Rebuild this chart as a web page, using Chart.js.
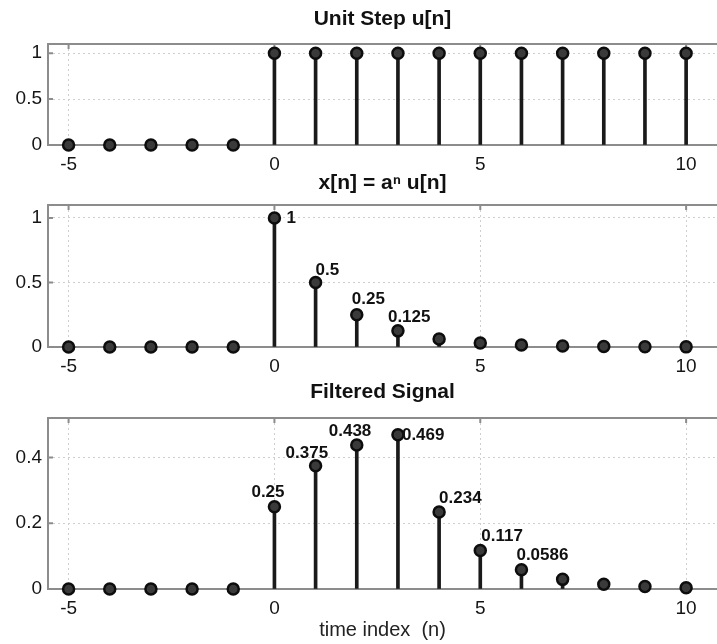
<!DOCTYPE html>
<html>
<head>
<meta charset="UTF-8">
<title>Unit Step / Filtered Signal</title>
<script src="https://cdn.jsdelivr.net/npm/chart.js@4/dist/chart.umd.min.js"></script>
<style>
  body { margin: 0; background: #fff; }
  .plot { position: absolute; left: 0; width: 717px; }
</style>
</head>
<body>
<div class="plot" style="top:0;height:170px"><canvas id="stepChart"></canvas></div>
<div class="plot" style="top:170px;height:205px"><canvas id="expChart"></canvas></div>
<div class="plot" style="top:375px;height:269px"><canvas id="filtChart"></canvas></div>

<script>
// time index
const n = [-5, -4, -3, -2, -1, 0, 1, 2, 3, 4, 5, 6, 7, 8, 9, 10];

// u[n]
const unitStep = [0, 0, 0, 0, 0, 1, 1, 1, 1, 1, 1, 1, 1, 1, 1, 1];
// x[n] = a^n u[n]
const expSignal = [0, 0, 0, 0, 0, 1, 0.5, 0.25, 0.125, 0.0625, 0.031, 0.016, 0.008, 0.004, 0.002, 0.001];
// filtered output
const filtered = [0, 0, 0, 0, 0, 0.25, 0.375, 0.438, 0.469, 0.234, 0.117, 0.0586, 0.0293, 0.0146, 0.0073, 0.0037];

// labels written next to the stems (starting at n = 0)
const expLabels = ['1', '0.5', '0.25', '0.125'];
const filtLabels = ['0.25', '0.375', '0.438', '0.469', '0.234', '0.117', '0.0586'];

const xTicks = [-5, 0, 5, 10];
const stepTicks = [0, 0.5, 1];
const expTicks = [0, 0.5, 1];
const filtTicks = [0, 0.2, 0.4];

const FONT = '"Liberation Sans", Arial, Helvetica, sans-serif';

// box, inward tick marks and value labels
const stemFrame = {
    id: 'stemFrame',
    beforeDatasetsDraw(chart) {
        const {ctx, chartArea: a, scales: {x, y}} = chart;
        ctx.save();
        ctx.strokeStyle = '#8c8c8c';
        ctx.lineWidth = 2;
        ctx.beginPath();
        x.ticks.forEach(t => {
            const px = x.getPixelForValue(t.value);
            ctx.moveTo(px, a.bottom); ctx.lineTo(px, a.bottom - 5);
            ctx.moveTo(px, a.top); ctx.lineTo(px, a.top + 5);
        });
        y.ticks.forEach(t => {
            const py = y.getPixelForValue(t.value);
            ctx.moveTo(a.left, py); ctx.lineTo(a.left + 5, py);
        });
        ctx.stroke();
        ctx.strokeRect(a.left, a.top, a.right - a.left + 4, a.bottom - a.top);
        ctx.restore();
    },
    afterDatasetsDraw(chart, args, opts) {
        if (!opts.texts) return;
        const ctx = chart.ctx;
        const pts = chart.getDatasetMeta(1).data;
        const start = n.indexOf(0);
        ctx.save();
        ctx.font = 'bold 17px ' + FONT;
        ctx.fillStyle = '#111';
        ctx.textAlign = 'left';
        ctx.textBaseline = 'middle';
        opts.texts.forEach((txt, i) => {
            const p = pts[start + i];
            const [dx, dy] = opts.offsets[i];
            ctx.fillText(txt, p.x + dx, p.y + dy);
        });
        ctx.restore();
    }
};

function stemChart(id, values, yTicks, yMax, title, cfg) {
    const pts = n.map((v, i) => ({x: v, y: values[i]}));
    return new Chart(document.getElementById(id), {
        type: 'bar',
        data: {
            datasets: [
                {
                    type: 'bar',
                    data: pts,
                    backgroundColor: '#1a1a1a',
                    barThickness: 3,
                    clip: false,
                    order: 2
                },
                {
                    type: 'line',
                    data: pts,
                    showLine: false,
                    pointRadius: 5.5,
                    pointBackgroundColor: '#3a3a3a',
                    pointBorderColor: '#0d0d0d',
                    pointBorderWidth: 2.5,
                    clip: false,
                    order: 1
                }
            ]
        },
        options: {
            responsive: true,
            maintainAspectRatio: false,
            animation: false,
            events: [],
            layout: { padding: 0, autoPadding: false },
            plugins: {
                legend: { display: false },
                tooltip: { enabled: false },
                title: {
                    display: true,
                    text: title,
                    fullSize: false,
                    color: '#111',
                    font: { family: FONT, size: 21, weight: 'bold' },
                    padding: cfg.titlePad
                },
                stemFrame: { texts: cfg.texts, offsets: cfg.offsets }
            },
            scales: {
                x: {
                    type: 'linear',
                    min: -5.5,
                    max: 10.75,
                    offset: false,
                    afterBuildTicks: s => { s.ticks = xTicks.map(v => ({value: v})); },
                    afterFit: s => { s.height = cfg.xHeight; },
                    grid: { offset: false, color: '#cfcfcf', lineWidth: 1, drawTicks: false },
                    border: { display: false, dash: [2, 3] },
                    ticks: {
                        padding: 8, color: '#151515', autoSkip: false, maxRotation: 0,
                        font: { family: FONT, size: 19 },
                        callback: v => String(v)
                    },
                    title: cfg.xTitle || { display: false }
                },
                y: {
                    min: 0,
                    max: yMax,
                    afterBuildTicks: s => { s.ticks = yTicks.map(v => ({value: v})); },
                    afterFit: s => { s.width = 48; },
                    grid: { color: '#cfcfcf', lineWidth: 1, drawTicks: false },
                    border: { display: false, dash: [2, 3] },
                    ticks: {
                        padding: 6, color: '#151515',
                        font: { family: FONT, size: 19 },
                        callback: v => String(v)
                    }
                }
            }
        },
        plugins: [stemFrame]
    });
}

stemChart('stepChart', unitStep, stepTicks, 1.1, 'Unit Step u[n]', {
    titlePad: { top: 6.4, bottom: 12.4 },
    xHeight: 25
});

stemChart('expChart', expSignal, expTicks, 1.1, 'x[n] = a\u207F u[n]', {
    titlePad: { top: 0.4, bottom: 9.4 },
    xHeight: 28,
    texts: expLabels,
    offsets: [[12, 0], [0, -12], [-5, -15], [-10, -14]]
});

stemChart('filtChart', filtered, filtTicks, 0.52, 'Filtered Signal', {
    titlePad: { top: 4.9, bottom: 12.9 },
    xHeight: 55,
    texts: filtLabels,
    offsets: [[-23, -14], [-30, -12], [-28, -14], [4, 1], [0, -14], [1, -14], [-5, -14]],
    xTitle: {
        display: true,
        text: 'time index  (n)',
        color: '#222',
        font: { family: FONT, size: 20 },
        padding: { top: 0, bottom: 2 }
    }
});
</script>
</body>
</html>
